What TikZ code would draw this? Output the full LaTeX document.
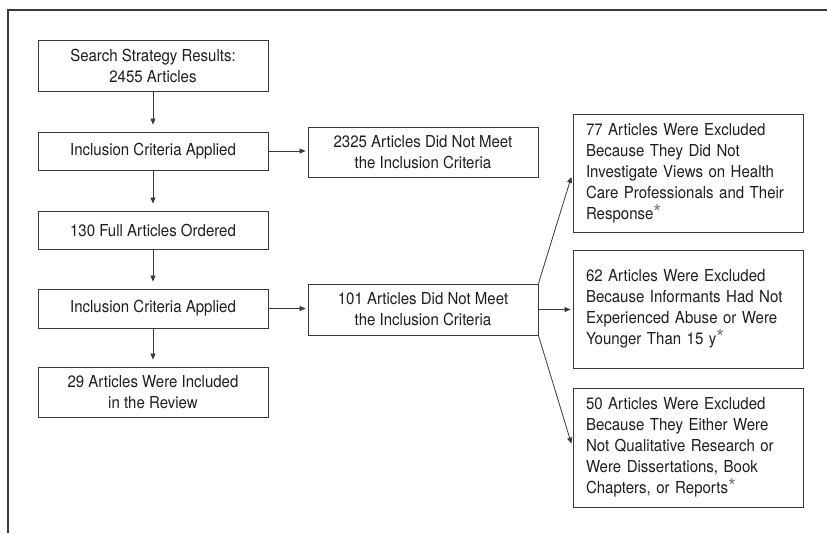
\documentclass[tikz,border=0pt]{standalone}
\usepackage{fontspec}
\setmainfont{TeX Gyre Heros}[FakeStretch=0.91]
\usetikzlibrary{arrows.meta, calc}
\definecolor{ln}{HTML}{3a3a3a}
\definecolor{tx}{HTML}{1e1e1e}
\definecolor{stargray}{HTML}{7a7a7a}
\newcommand{\fnstar}{\raisebox{-0.05em}{\textcolor{stargray}{\fontsize{22}{21}\selectfont *}}}

\begin{document}
\begin{tikzpicture}[x=1pt, y=-1pt,
	box/.style={draw=ln, line width=0.9pt, text=tx, minimum width=230pt, inner sep=0pt, align=center, font=\fontsize{16.5}{21}\selectfont},
	xbox/.style={box, text width=204pt, align=left},
	arr/.style={draw=ln, line width=0.8pt, -{Triangle[length=6pt,width=5pt]}}]
			\useasboundingbox (0,0) rectangle (827,533);

			% Frame
			\draw[ln, line width=1.2pt] (827,10) -- (8,10) -- (8,533);

			% Main column
			\node[box, minimum height=51pt] (srch) at (153,65.5) {Search Strategy Results:\\2455 Articles};
			\node[box, minimum height=38pt] (incl1) at (153,151) {Inclusion Criteria Applied};
			\node[box, minimum height=38pt] (full) at (153,230) {130 Full Articles Ordered};
			\node[box, minimum height=39pt] (incl2) at (153,308.5) {Inclusion Criteria Applied};
			\node[box, minimum height=50pt] (rev) at (153,392) {29 Articles Were Included\\in the Review};

			% Excluded
			\node[box, minimum height=50pt] (ex1) at (423,152) {2325 Articles Did Not Meet\\the Inclusion Criteria};
			\node[box, minimum height=51pt] (ex2) at (423,309.5) {101 Articles Did Not Meet\\the Inclusion Criteria};

			% Reasons
			\node[xbox, minimum height=118pt] (r77) at (688,173) {77 Articles Were Excluded\\Because They Did Not\\Investigate Views on Health\\Care Professionals and Their\\Response\fnstar};
			\node[xbox, minimum height=118pt] (r62) at (688,309) {62 Articles Were Excluded\\Because Informants Had Not\\Experienced Abuse or Were\\Younger Than 15 y\fnstar};
			\node[xbox, minimum height=119pt] (r50) at (688,447.5) {50 Articles Were Excluded\\Because They Either Were\\Not Qualitative Research or\\Were Dissertations, Book\\Chapters, or Reports\fnstar};

			% Arrows
			\draw[arr, shorten >=7pt] (srch) -- (incl1);
			\draw[arr, shorten >=7pt] (incl1) -- (full);
			\draw[arr, shorten >=7pt] (full) -- (incl2);
			\draw[arr, shorten >=7pt] (incl2) -- (rev);
			\draw[arr, shorten >=2pt] (incl1.east) -- (incl1.east -| ex1.west);
			\draw[arr, shorten >=2pt] (incl2.east) -- (incl2.east -| ex2.west);
			\draw[arr, shorten >=4pt] (ex2.north east) -- (r77.west);
			\draw[arr, shorten >=2pt] (ex2.east) -- (ex2.east -| r62.west);
			\draw[arr, shorten >=4pt] (ex2.south east) -- (r50.west);
		\end{tikzpicture}
\end{document}
